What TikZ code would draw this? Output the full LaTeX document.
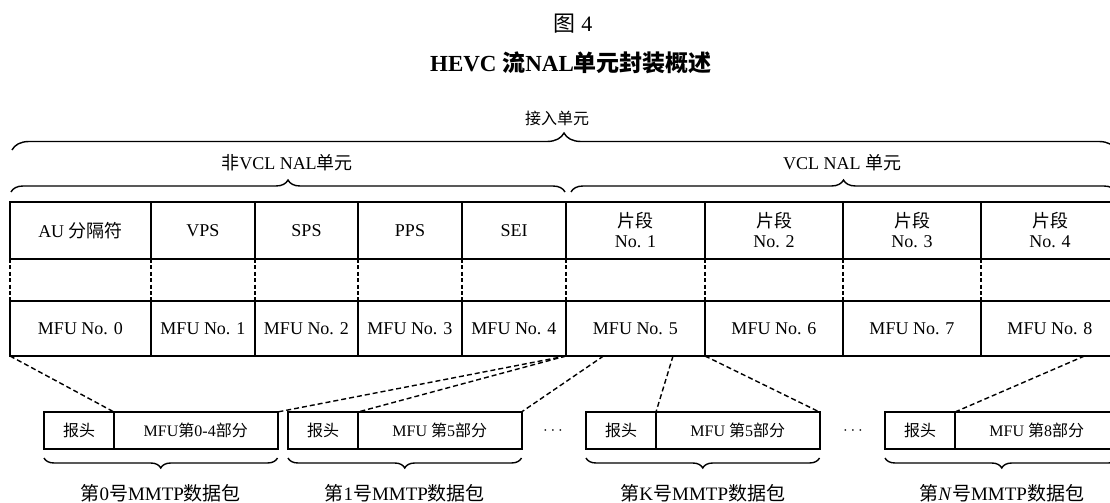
\documentclass[tikz,border=0pt]{standalone}
\usepackage{fontspec}
\setmainfont{Liberation Serif}
\newfontfamily\cjk{Noto Sans CJK SC}
\newcommand{\zh}[1]{{\cjk #1}}
\usetikzlibrary{decorations.pathreplacing,calc}

\tikzset{
  cell/.style={draw,line width=1pt,inner sep=0pt,outer sep=0pt,align=center,font=\fontsize{9}{10}\selectfont},
  gap/.style={line width=1pt,dash pattern=on 2pt off 1.2pt},
  link/.style={line width=0.7pt,dash pattern=on 2.5pt off 1.5pt},
  pkt/.style={draw,line width=1pt,inner sep=0pt,outer sep=0pt,minimum height=18.5pt,font=\fontsize{8}{9}\selectfont},
  brc/.style={decorate,decoration={brace,amplitude=#1},line width=0.7pt},
  brcm/.style={decorate,decoration={brace,mirror,amplitude=#1},line width=0.7pt},
  lbl/.style={font=\fontsize{9}{10}\selectfont}
}

\begin{document}
\begin{tikzpicture}[x=0.5pt,y=-0.5pt]
  \useasboundingbox (0,0) rectangle (1110,503);
  \clip (0,0) rectangle (1110,503);
  % titles
  \node[font=\fontsize{11}{12}\selectfont] (fig) at (573,24) {\zh{图} 4};
  \node[font=\fontsize{11.5}{13}\selectfont\bfseries] (title) at (571,63) {HEVC \zh{流}NAL\zh{单元封装概述}};
  \node[font=\fontsize{8}{9}\selectfont] (au) at (557,118) {\zh{接入单元}};
  % braces over the table
  \draw[brc=8.5pt] (12,150) -- (1116,150);
  \node[lbl] (nonvcl) at (287,163) {\zh{非}VCL NAL\zh{单元}};
  \node[lbl] (vcl) at (842,163) {VCL NAL \zh{单元}};
  \draw[brc=6pt] (11,192) -- (565,192);
  \draw[brc=6pt] (571,192) -- (1116,192);
  % NAL units and MFUs
  \foreach \l/\r/\t [count=\i] in {10/151/{AU \zh{分隔符}},151/255/VPS,255/358/SPS,358/462/PPS,462/566/SEI,
      566/705/{\zh{片段}\\No. 1},705/843/{\zh{片段}\\No. 2},843/981/{\zh{片段}\\No. 3},981/1119/{\zh{片段}\\No. 4}}{%
    \pgfmathsetmacro\w{(\r-\l)/2}
    \node[cell,minimum width=\w pt,minimum height=28.5pt] (nal\i) at ({(\l+\r)/2},230.5) {\t};
  }
  \foreach \l/\r [count=\i from 0] in {10/151,151/255,255/358,358/462,462/566,566/705,705/843,843/981,981/1119}{%
    \pgfmathsetmacro\w{(\r-\l)/2}
    \node[cell,minimum width=\w pt,minimum height=27.5pt] (mfu\i) at ({(\l+\r)/2},328.5) {MFU No. \i};
  }
  \foreach \i in {1,...,9}
    \draw[gap] (nal\i.south west) -- (nal\i.south west |- mfu0.north);
  % MMTP packets
  \foreach \n/\x/\t/\c in {0/44/{MFU\zh{第}0-4\zh{部分}}/{\zh{第}0\zh{号}MMTP\zh{数据包}},
      1/288/{MFU \zh{第}5\zh{部分}}/{\zh{第}1\zh{号}MMTP\zh{数据包}},
      K/586/{MFU \zh{第}5\zh{部分}}/{\zh{第}K\zh{号}MMTP\zh{数据包}},
      N/885/{MFU \zh{第}8\zh{部分}}/{\zh{第}\textit{N}\zh{号}MMTP\zh{数据包}}}{%
    \node[pkt,minimum width=35pt,anchor=west] (hd\n) at (\x,430.5) {\zh{报头}};
    \node[pkt,minimum width=81.75pt,anchor=west] (pl\n) at (hd\n.east) {\t};
    \draw[brcm=5pt] ($(hd\n.south west)+(0,9)$) -- ($(pl\n.south east)+(0,9)$);
    \path ($(hd\n.south west)!0.5!(pl\n.south east)$) ++(0,44) node[lbl,font=\fontsize{9.5}{11}\selectfont] (cap\n) {\c};
  }
  \node[font=\fontsize{8}{9}\selectfont] (dots1) at (553,430.5) {$\cdots$};
  \node[font=\fontsize{8}{9}\selectfont] (dots2) at (853,430.5) {$\cdots$};
  % MFUs into packets
  \draw[link] (mfu0.south west) -- (hd0.north east);
  \draw[link] (mfu4.south east) -- (pl0.north east);
  \draw[link] (mfu4.south east) -- (hd1.north east);
  \draw[link] ($(mfu5.south west)!0.27!(mfu5.south east)$) -- (pl1.north east);
  \draw[link] ($(mfu5.south west)!0.77!(mfu5.south east)$) -- (hdK.north east);
  \draw[link] (mfu5.south east) -- (plK.north east);
  \draw[link] ($(mfu8.south west)!0.75!(mfu8.south east)$) -- (hdN.north east);
\end{tikzpicture}
\end{document}
